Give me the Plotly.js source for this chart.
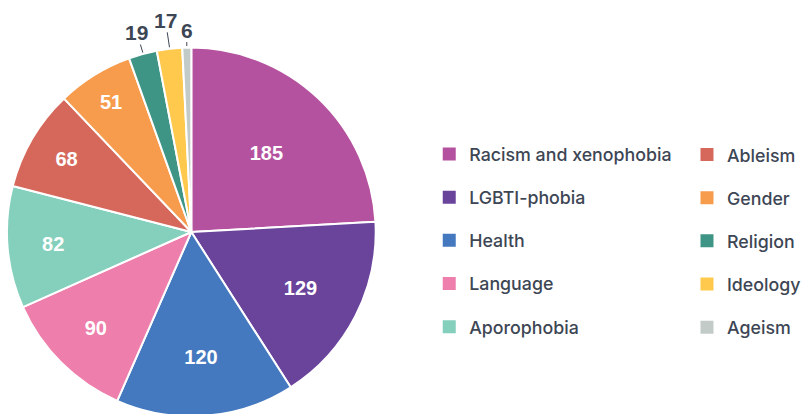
<!DOCTYPE html>
<html>
<head>
<meta charset="utf-8">
<script src="https://cdn.plot.ly/plotly-3.0.1.min.js"></script>
<style>
html,body{margin:0;padding:0;overflow:hidden;background:#fff;}
#chart{width:806px;height:420px;}
</style>
</head>
<body>
<div id="chart"></div>
<script>
const categories = ["Racism and xenophobia","LGBTI-phobia","Health","Language","Aporophobia","Ableism","Gender","Religion","Ideology","Ageism"];
const values = [185,129,120,90,82,68,51,19,17,6];
const colors = ["#b5529f","#6a449b","#4479bf","#ee7eab","#85cfbd","#d5685b","#f79b4c","#3f9585","#ffc94e","#c3cbc9"];
// categories whose value is written outside the pie, with a short leader line
const outsideLabels = ["Religion","Ideology","Ageism"];

const W = 806, H = 420;
const textColor = "#3d4654";
const numFont = "Liberation Sans, Arial, Helvetica, sans-serif";
const legFont = "Inter, Liberation Sans, Arial, sans-serif";

// pie geometry (pixels)
const pieLeft = 7, pieTop = 46, pieSize = 372;
const cx = pieLeft + pieSize / 2, cy = pieTop + pieSize / 2, R = pieSize / 2;

const textPositions = categories.map(c => outsideLabels.includes(c) ? "none" : "inside");

const traces = [{
  type: "pie",
  labels: categories,
  values: values,
  sort: false,
  direction: "clockwise",
  rotation: 0,
  marker: {colors: colors, line: {color: "#ffffff", width: 2}},
  textinfo: "value",
  textposition: textPositions,
  insidetextfont: {color: "#ffffff", size: 20, family: numFont, weight: "bold"},
  insidetextorientation: "horizontal",
  hoverinfo: "label+value",
  showlegend: false,
  domain: {x: [pieLeft / W, (pieLeft + pieSize) / W], y: [(H - pieTop - pieSize) / H, (H - pieTop) / H]}
}];

categories.forEach((c, i) => {
  traces.push({
    type: "scatter",
    mode: "markers",
    x: [null], y: [null],
    name: c,
    legendgroup: "g" + i,
    legend: i < 5 ? "legend" : "legend2",
    marker: {symbol: "square", size: 13, color: colors[i]},
    hoverinfo: "skip",
    showlegend: true
  });
});

// outside value labels, placed at each slice's mid angle
const total = values.reduce((a, b) => a + b, 0);
const labelOffsets = {Religion: [-6, -20], Ideology: [-4, -27], Ageism: [0, -16]};
const annotations = [];
let cum = 0;
values.forEach((v, i) => {
  const mid = (cum + v / 2) / total * 2 * Math.PI;
  cum += v;
  const c = categories[i];
  if (!outsideLabels.includes(c)) return;
  const px = cx + R * Math.sin(mid), py = cy - R * Math.cos(mid);
  const off = labelOffsets[c];
  annotations.push({
    xref: "paper", yref: "paper",
    x: px / W, y: (H - py) / H,
    ax: off[0], ay: off[1],
    text: String(v),
    showarrow: true, arrowhead: 0, arrowwidth: 1, arrowcolor: textColor,
    standoff: 0, startstandoff: 0,
    borderpad: 0,
    font: {family: numFont, size: 21, color: textColor, weight: "bold"}
  });
});

const legendBase = {
  font: {family: legFont, size: 17.8, color: textColor, weight: 500},
  bgcolor: "rgba(0,0,0,0)",
  borderwidth: 0,
  tracegroupgap: 17,
  yanchor: "top",
  xanchor: "left",
  traceorder: "grouped"
};

const layout = {
  width: W, height: H,
  margin: {l: 0, r: 0, t: 0, b: 0},
  paper_bgcolor: "#ffffff",
  plot_bgcolor: "#ffffff",
  xaxis: {visible: false},
  yaxis: {visible: false},
  legend: Object.assign({}, legendBase, {x: 433 / W, y: (H - 136) / H}),
  legend2: Object.assign({}, legendBase, {x: 693 / W, y: (H - 136.5) / H}),
  annotations: annotations,
  font: {family: numFont}
};

Plotly.newPlot("chart", traces, layout, {displayModeBar: false, staticPlot: true});
</script>
</body>
</html>
